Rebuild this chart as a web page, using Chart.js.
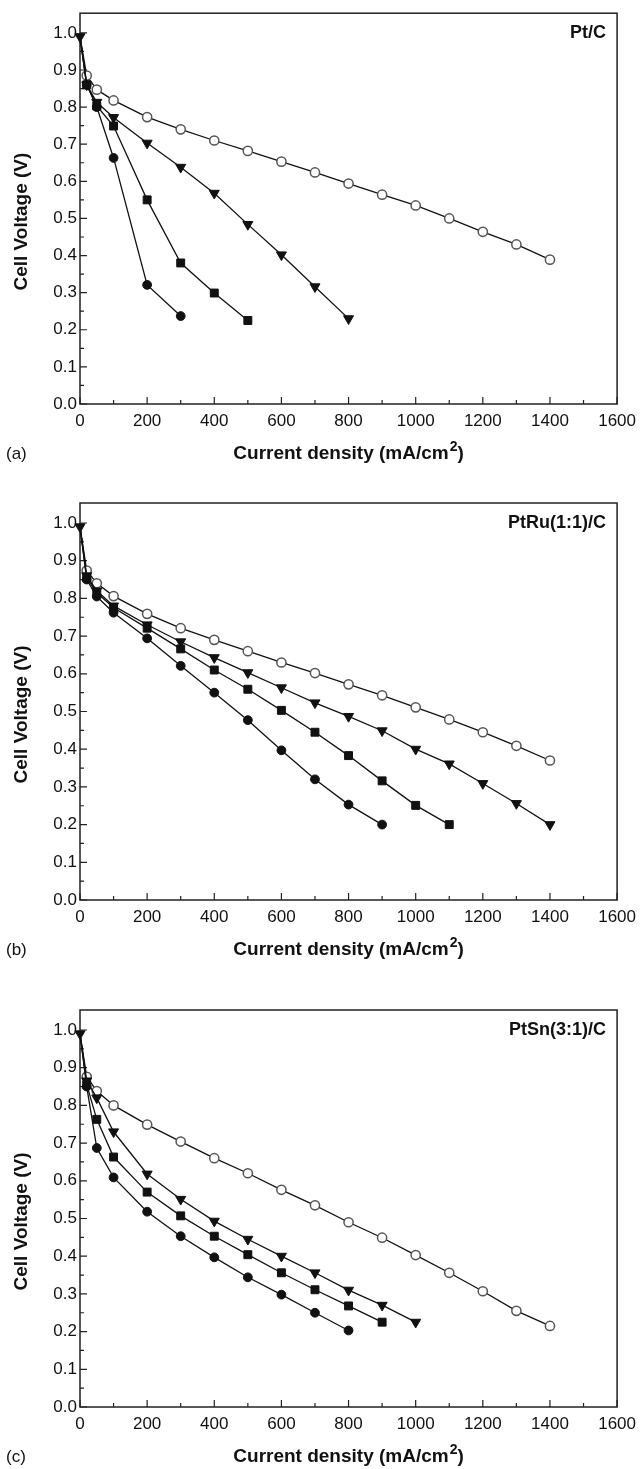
<!DOCTYPE html>
<html>
<head>
<meta charset="utf-8">
<script src="https://cdn.jsdelivr.net/npm/chart.js@4.4.1/dist/chart.umd.min.js"></script>
<style>
  body { margin: 0; background: #ffffff; }
  canvas { position: absolute; left: 0; }
</style>
</head>
<body>
<canvas id="chartA" width="643" height="465" style="top:0px"></canvas>
<canvas id="chartB" width="643" height="491" style="top:470px"></canvas>
<canvas id="chartC" width="643" height="493" style="top:975px"></canvas>
<script>
// current density points (mA/cm2), shared by all series
const currentDensity = [0, 20, 50, 100, 200, 300, 400, 500, 600, 700, 800, 900, 1000, 1100, 1200, 1300, 1400];

const xTicks = [0, 200, 400, 600, 800, 1000, 1200, 1400, 1600];
const xMinorTicks = [100, 300, 500, 700, 900, 1100, 1300, 1500];
const yTicks = [0, 0.1, 0.2, 0.3, 0.4, 0.5, 0.6, 0.7, 0.8, 0.9, 1.0];
const yMinorTicks = [0.05, 0.15, 0.25, 0.35, 0.45, 0.55, 0.65, 0.75, 0.85, 0.95];

// (a) Pt/C
const ptcOpen = [0.99, 0.885, 0.847, 0.818, 0.773, 0.74, 0.71, 0.682, 0.653, 0.624, 0.594, 0.564, 0.535, 0.50, 0.464, 0.43, 0.389];
const ptcTri = [0.99, 0.86, 0.813, 0.772, 0.703, 0.638, 0.568, 0.484, 0.402, 0.316, 0.23];
const ptcSquare = [0.99, 0.86, 0.803, 0.749, 0.55, 0.38, 0.299, 0.225];
const ptcDot = [0.99, 0.86, 0.80, 0.663, 0.321, 0.237];

// (b) PtRu(1:1)/C
const ptruOpen = [0.99, 0.874, 0.84, 0.806, 0.759, 0.721, 0.69, 0.66, 0.63, 0.602, 0.572, 0.543, 0.511, 0.479, 0.445, 0.409, 0.37];
const ptruTri = [0.99, 0.86, 0.82, 0.78, 0.73, 0.685, 0.643, 0.603, 0.563, 0.523, 0.487, 0.449, 0.40, 0.361, 0.309, 0.256, 0.20];
const ptruSquare = [0.99, 0.855, 0.815, 0.775, 0.721, 0.666, 0.61, 0.559, 0.503, 0.445, 0.383, 0.316, 0.251, 0.20];
const ptruDot = [0.99, 0.85, 0.805, 0.762, 0.694, 0.621, 0.55, 0.477, 0.397, 0.32, 0.253, 0.20];

// (c) PtSn(3:1)/C
const ptsnOpen = [0.99, 0.876, 0.838, 0.80, 0.749, 0.704, 0.66, 0.62, 0.576, 0.535, 0.49, 0.449, 0.403, 0.356, 0.307, 0.255, 0.215];
const ptsnTri = [0.99, 0.865, 0.82, 0.73, 0.618, 0.551, 0.493, 0.445, 0.40, 0.356, 0.31, 0.27, 0.225];
const ptsnSquare = [0.99, 0.855, 0.763, 0.663, 0.57, 0.507, 0.453, 0.404, 0.356, 0.311, 0.268, 0.225];
const ptsnDot = [0.99, 0.85, 0.687, 0.609, 0.518, 0.453, 0.397, 0.344, 0.298, 0.25, 0.203];

const FONT = "'Liberation Sans', Arial, Helvetica, sans-serif";

function toPoints(values) {
    return values.map((v, i) => ({ x: currentDensity[i], y: v }));
}

// marker styles for the four curves
function series(label, values, kind) {
    const ds = {
        label: label,
        data: toPoints(values),
        borderColor: '#111111',
        borderWidth: 1.3,
        pointBorderColor: '#111111',
        pointBackgroundColor: '#111111',
        pointBorderWidth: 1,
        tension: 0,
        clip: false
    };
    let r = 4.4;
    if (kind === 'open') {
        ds.pointStyle = 'circle';
        r = 4.6;
        ds.pointBackgroundColor = '#ffffff';
        ds.pointBorderColor = '#555555';
        ds.pointBorderWidth = 1.5;
    } else if (kind === 'tri') {
        ds.pointStyle = 'triangle';
        ds.pointRotation = 180;
        r = 5.8;
    } else if (kind === 'square') {
        ds.pointStyle = 'rect';
        r = 5.6;
    } else {
        ds.pointStyle = 'circle';
    }
    // at zero current only the triangle marker shows
    if (kind === 'tri') {
        ds.pointRadius = r;
    } else {
        ds.pointRadius = c => (c.dataIndex === 0 ? 0 : r);
    }
    return ds;
}

// frame, inward ticks and extra texts
const panelDecor = {
    id: 'panelDecor',
    beforeDatasetsDraw(chart, args, opts) {
        const ctx = chart.ctx;
        const a = chart.chartArea;
        const x = chart.scales.x;
        const y = chart.scales.y;
        ctx.save();
        ctx.strokeStyle = '#222222';
        ctx.lineWidth = 1.5;
        ctx.strokeRect(a.left, a.top, a.right - a.left, a.bottom - a.top);

        ctx.lineWidth = 1.2;
        ctx.beginPath();
        xTicks.forEach(v => {
            const px = x.getPixelForValue(v);
            ctx.moveTo(px, a.bottom);
            ctx.lineTo(px, a.bottom - 7);
        });
        xMinorTicks.forEach(v => {
            const px = x.getPixelForValue(v);
            ctx.moveTo(px, a.bottom);
            ctx.lineTo(px, a.bottom - 4);
        });
        yTicks.forEach(v => {
            const py = y.getPixelForValue(v);
            ctx.moveTo(a.left, py);
            ctx.lineTo(a.left + 7, py);
        });
        yMinorTicks.forEach(v => {
            const py = y.getPixelForValue(v);
            ctx.moveTo(a.left, py);
            ctx.lineTo(a.left + 4, py);
        });
        ctx.stroke();
        ctx.restore();
    },
    afterDraw(chart, args, opts) {
        const ctx = chart.ctx;
        const a = chart.chartArea;
        ctx.save();
        ctx.fillStyle = '#111111';
        ctx.textBaseline = 'middle';

        // catalyst name, top right
        ctx.font = 'bold 18px ' + FONT;
        ctx.textAlign = 'right';
        ctx.fillText(opts.sample, a.right - 11, a.top + 20);

        // y axis title
        ctx.save();
        ctx.translate(22, (a.top + a.bottom) / 2 + 13);
        ctx.rotate(-Math.PI / 2);
        ctx.textAlign = 'center';
        ctx.font = 'bold 19px ' + FONT;
        ctx.fillText('Cell Voltage (V)', 0, 0);
        ctx.restore();

        // x axis title with raised 2
        const ty = a.bottom + 50;
        const main = 'Current density (mA/cm';
        ctx.font = 'bold 19px ' + FONT;
        const w1 = ctx.measureText(main).width;
        const w3 = ctx.measureText(')').width;
        ctx.font = 'bold 14px ' + FONT;
        const w2 = ctx.measureText('2').width + 1;
        let tx = (a.left + a.right) / 2 - (w1 + w2 + w3) / 2;
        ctx.textAlign = 'left';
        ctx.font = 'bold 19px ' + FONT;
        ctx.fillText(main, tx, ty);
        ctx.font = 'bold 14px ' + FONT;
        ctx.fillText('2', tx + w1 + 1, ty - 7);
        ctx.font = 'bold 19px ' + FONT;
        ctx.fillText(')', tx + w1 + w2, ty);

        // panel letter
        ctx.font = '17px ' + FONT;
        ctx.fillText(opts.letter, 6, ty);
        ctx.restore();
    }
};

function makeChart(id, padTop, sample, letter, open, tri, square, dot) {
    const ctx = document.getElementById(id).getContext('2d');
    return new Chart(ctx, {
        type: 'line',
        data: {
            datasets: [
                series('triangle', tri, 'tri'),
                series('square', square, 'square'),
                series('filled circle', dot, 'dot'),
                series('open circle', open, 'open')
            ]
        },
        options: {
            responsive: false,
            animation: false,
            layout: {
                padding: { top: padTop, right: 25, left: 0, bottom: 0 }
            },
            plugins: {
                legend: { display: false },
                tooltip: { enabled: false },
                panelDecor: { sample: sample, letter: letter }
            },
            scales: {
                x: {
                    type: 'linear',
                    min: 0,
                    max: 1600,
                    afterBuildTicks: s => { s.ticks = xTicks.map(v => ({ value: v })); },
                    afterFit: s => { s.height = 61; },
                    grid: { display: false, drawTicks: false },
                    border: { display: false },
                    ticks: {
                        autoSkip: false,
                        maxRotation: 0,
                        padding: 7,
                        color: '#111111',
                        font: { family: FONT, size: 17 },
                        callback: v => String(v)
                    }
                },
                y: {
                    type: 'linear',
                    min: 0,
                    max: 1.053,
                    afterBuildTicks: s => { s.ticks = yTicks.map(v => ({ value: v })); },
                    afterFit: s => { s.width = 80; },
                    grid: { display: false, drawTicks: false },
                    border: { display: false },
                    ticks: {
                        padding: 3,
                        color: '#111111',
                        font: { family: FONT, size: 17 },
                        callback: v => v.toFixed(1)
                    }
                }
            }
        },
        plugins: [panelDecor]
    });
}

makeChart('chartA', 8, 'Pt/C', '(a)', ptcOpen, ptcTri, ptcSquare, ptcDot);
makeChart('chartB', 33, 'PtRu(1:1)/C', '(b)', ptruOpen, ptruTri, ptruSquare, ptruDot);
makeChart('chartC', 35, 'PtSn(3:1)/C', '(c)', ptsnOpen, ptsnTri, ptsnSquare, ptsnDot);
</script>
</body>
</html>
